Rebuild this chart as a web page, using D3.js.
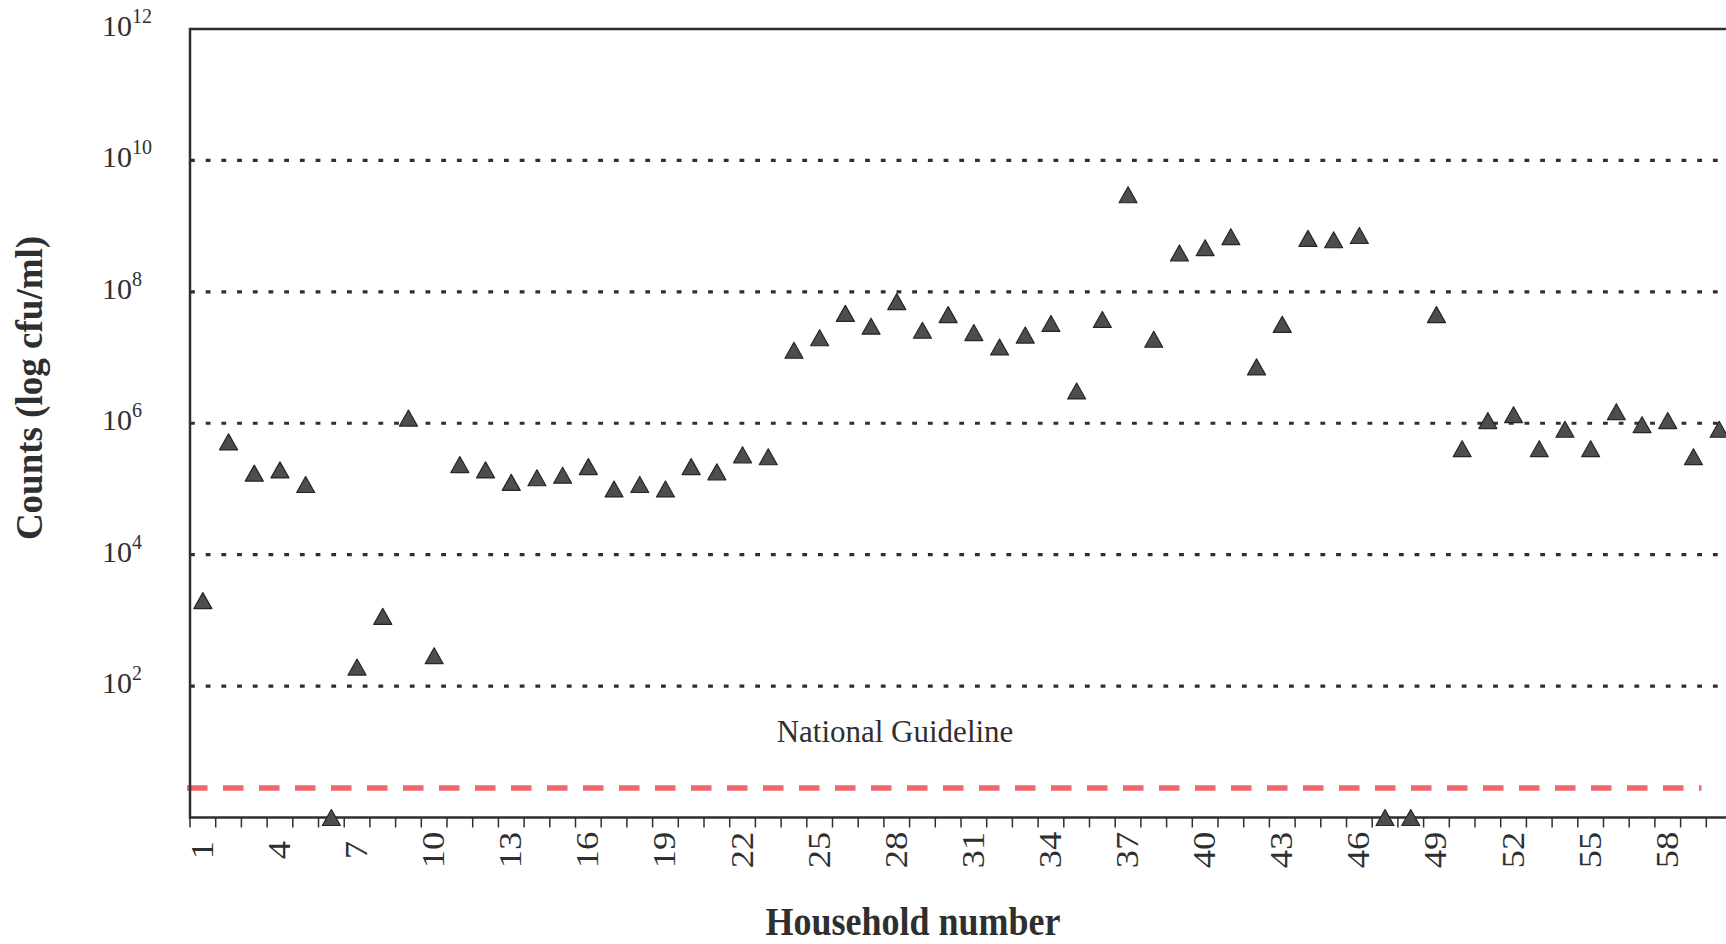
<!DOCTYPE html>
<html>
<head>
<meta charset="utf-8">
<script src="https://cdn.jsdelivr.net/npm/d3@7"></script>
<style>
  body { margin: 0; background: #fff; }
  svg { display: block; background: #fff; }
  text { font-family: "Liberation Serif", "Times New Roman", serif; fill: #2f2f2f; }
</style>
</head>
<body>
<svg id="chart" width="1726" height="944"></svg>
<script>
// Households sampled (category axis)
const households = [1, 2, 3, 4, 5, 6, 7, 8, 9, 10, 11, 12, 13, 14, 15, 16, 17, 18, 19, 20,
  21, 22, 23, 24, 25, 26, 27, 28, 29, 30, 31, 32, 33, 34, 35, 36, 37, 38, 39, 40,
  41, 42, 43, 44, 45, 46, 47, 48, 49, 50, 51, 52, 53, 54, 55, 56, 57, 58, 59, 60];

// Bacterial counts per household (cfu/ml)
const counts = [2000, 520000, 174000, 195000, 117000, 1, 195, 1150, 1200000, 290,
  235000, 195000, 126000, 148000, 162000, 219000, 100000, 117000, 100000, 219000,
  182000, 331000, 309000, 12900000, 20000000, 47000000, 30000000, 71000000, 26000000, 45000000,
  24000000, 14500000, 22000000, 33000000, 3100000, 38000000, 3000000000, 19000000, 390000000, 470000000,
  690000000, 7200000, 32000000, 650000000, 620000000, 720000000, 1, 1, 45000000, 410000,
  1100000, 1350000, 410000, 810000, 410000, 1500000, 950000, 1100000, 310000, 810000];

// Labelled households on the x axis
const labelledHouseholds = [1, 4, 7, 10, 13, 16, 19, 22, 25, 28, 31, 34, 37, 40, 43, 46, 49, 52, 55, 58];

// Powers of ten for the dotted reference lines and the axis labels
const gridExponents = [2, 4, 6, 8, 10];
const tickExponents = [2, 4, 6, 8, 10, 12];

// Guideline level (cfu/ml) drawn as the red dashed line
const guideline = 2.8;
const guidelineLabel = "National Guideline";

const xTitle = "Household number";
const yTitle = "Counts (log cfu/ml)";

(function draw() {
  const svg = d3.select("#chart");

  const plotLeft = 190, plotTop = 29, plotBottom = 817.5, band = 25.7;

  const x = d3.scaleBand()
    .domain(households)
    .range([plotLeft, plotLeft + band * households.length])
    .padding(0);
  const plotRight = x.range()[1];
  const cx = d => x(d) + x.bandwidth() / 2;

  const y = d3.scaleLog().domain([1, 1e12]).range([plotBottom, plotTop]);

  // Dotted horizontal reference lines
  svg.append("g")
    .selectAll("line")
    .data(gridExponents)
    .join("line")
    .attr("x1", plotLeft)
    .attr("x2", plotRight)
    .attr("y1", e => y(Math.pow(10, e)))
    .attr("y2", e => y(Math.pow(10, e)))
    .attr("stroke", "#2f2f2f")
    .attr("stroke-width", 3.2)
    .attr("stroke-dasharray", "4.8 10.9");

  // Guideline
  svg.append("line")
    .attr("x1", plotLeft - 3)
    .attr("x2", cx(59) + 8)
    .attr("y1", y(guideline))
    .attr("y2", y(guideline))
    .attr("stroke", "#ef666d")
    .attr("stroke-width", 5.5)
    .attr("stroke-dasharray", "20.5 15.5");

  svg.append("text")
    .attr("x", 895)
    .attr("y", 742)
    .attr("text-anchor", "middle")
    .attr("font-size", 31)
    .text(guidelineLabel);

  // Plot frame
  svg.append("path")
    .attr("d", `M${plotRight},${plotBottom}H${plotLeft}V${plotTop}H${plotRight}V${plotBottom}`)
    .attr("fill", "none")
    .attr("stroke", "#2f2f2f")
    .attr("stroke-width", 2.5);

  // Category boundary ticks
  const boundaries = households.map(d => x(d)).concat([plotRight]);
  svg.append("g")
    .selectAll("line")
    .data(boundaries)
    .join("line")
    .attr("x1", d => d)
    .attr("x2", d => d)
    .attr("y1", plotBottom)
    .attr("y2", plotBottom + 10)
    .attr("stroke", "#2f2f2f")
    .attr("stroke-width", 1.5);

  // Rotated household labels
  svg.append("g")
    .selectAll("text")
    .data(labelledHouseholds)
    .join("text")
    .attr("transform", d => `translate(${cx(d) + 10},850) rotate(-90) scale(1.18,1)`)
    .attr("text-anchor", "middle")
    .attr("font-size", 31)
    .text(d => d);

  // Power-of-ten labels
  const yLabels = svg.append("g")
    .selectAll("text")
    .data(tickExponents)
    .join("text")
    .attr("x", 102)
    .attr("y", e => y(Math.pow(10, e)) + 7)
    .attr("font-size", 30);
  yLabels.append("tspan").text("10");
  yLabels.append("tspan")
    .attr("dy", -13)
    .attr("font-size", 20)
    .text(e => e);

  // Markers: triangles centred on their bounding box
  const triangleMarker = {
    draw(context, size) {
      const w = Math.sqrt(size * 2 * 1.125);
      const h = w / 1.125;
      context.moveTo(0, -h / 2);
      context.lineTo(w / 2, h / 2);
      context.lineTo(-w / 2, h / 2);
      context.closePath();
    }
  };
  const marker = d3.symbol().type(triangleMarker).size(144);

  svg.append("g")
    .selectAll("path")
    .data(households.map((h, i) => ({ h, v: counts[i] })))
    .join("path")
    .attr("transform", d => `translate(${cx(d.h)},${y(d.v)})`)
    .attr("d", marker)
    .attr("fill", "#4d4d4d")
    .attr("stroke", "#262626")
    .attr("stroke-width", 1.2)
    .attr("stroke-linejoin", "round");

  // Axis titles
  svg.append("text")
    .attr("transform", "translate(913,935) scale(1,1.12)")
    .attr("text-anchor", "middle")
    .attr("font-size", 36)
    .attr("font-weight", "bold")
    .text(xTitle);

  svg.append("text")
    .attr("transform", "translate(42,388) rotate(-90)")
    .attr("text-anchor", "middle")
    .attr("font-size", 37)
    .attr("font-weight", "bold")
    .text(yTitle);
})();
</script>
</body>
</html>
